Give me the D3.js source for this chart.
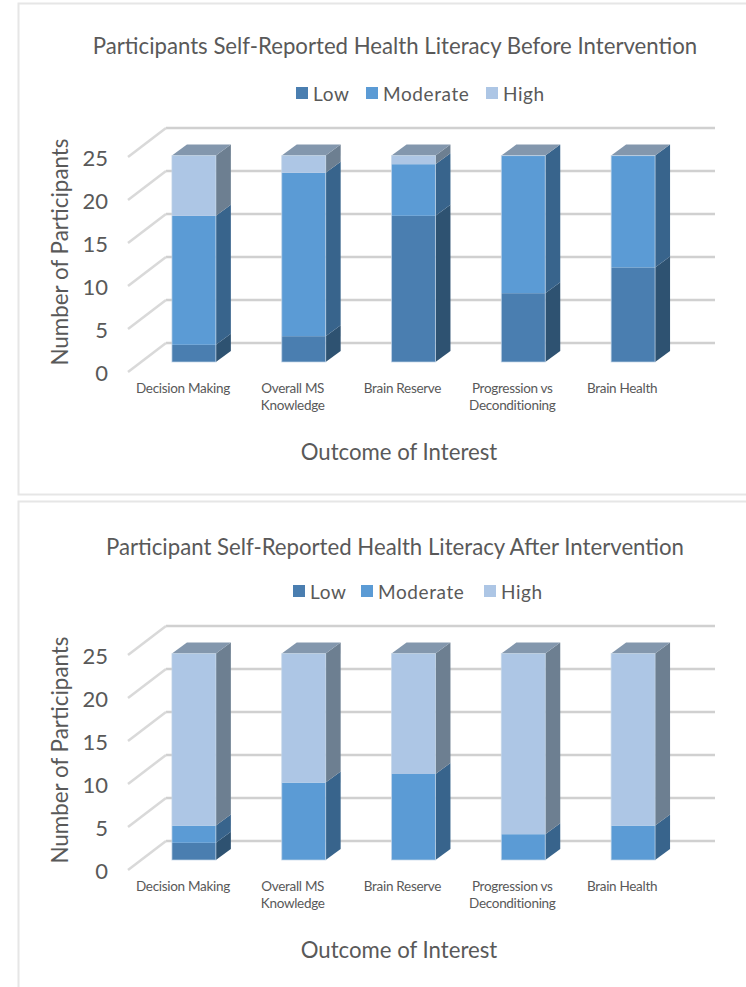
<!DOCTYPE html>
<html>
<head>
<meta charset="utf-8">
<script src="https://cdn.jsdelivr.net/npm/d3@7"></script>
<style>
  html, body { margin: 0; padding: 0; background: #fff; }
  svg { display: block; }
  text { font-family: Lato, "Open Sans", sans-serif; fill: #595959; }
</style>
</head>
<body>
<svg width="746" height="987"></svg>
<script>
// data
var categories = ["Decision Making", "Overall MS Knowledge", "Brain Reserve", "Progression vs Deconditioning", "Brain Health"];
var categoryLines = [["Decision Making"], ["Overall MS", "Knowledge"], ["Brain Reserve"], ["Progression vs", "Deconditioning"], ["Brain Health"]];
var levels = ["Low", "Moderate", "High"];
var yTicks = [0, 5, 10, 15, 20, 25];

var beforeLow = [2, 3, 17, 8, 11];
var beforeModerate = [15, 19, 6, 16, 13];
var beforeHigh = [7, 2, 1, 0, 0];

var afterLow = [2, 0, 0, 0, 0];
var afterModerate = [2, 9, 10, 3, 4];
var afterHigh = [20, 15, 14, 21, 20];

var titleBefore = "Participants Self-Reported Health Literacy Before Intervention";
var titleAfter = "Participant Self-Reported Health Literacy After Intervention";

// front, side colours per level
var frontColor = { Low: "#4a7eb0", Moderate: "#5b9bd5", High: "#adc6e5" };
var sideColor = { Low: "#2e5271", Moderate: "#38648c", High: "#6d7f91" };
var topColor = "#8397ad";

var svg = d3.select("svg");

var depthX = 15, depthY = 11;

var x = d3.scaleBand()
    .domain(categories)
    .range([139, 688])
    .paddingInner(0.6)
    .paddingOuter(0.3);

var y = d3.scaleLinear().domain([0, 25]).range([362, 147]);

function drawChart(offset, frameH, title, titleY, legendX, low, moderate, high) {
    var table = categories.map(function (c, i) {
        return { category: c, Low: low[i], Moderate: moderate[i], High: high[i] };
    });
    var stacked = d3.stack().keys(levels)(table);

    var g = svg.append("g").attr("transform", "translate(0," + offset + ")");

    g.append("rect")
        .attr("x", 18.5).attr("y", 3.5)
        .attr("width", 760).attr("height", frameH)
        .attr("fill", "#fff")
        .attr("stroke", "#e6e6e6")
        .attr("stroke-width", 2);

    g.append("text")
        .attr("class", "chart-title")
        .attr("x", 395).attr("y", titleY)
        .attr("text-anchor", "middle")
        .attr("font-size", 22.2)
        .text(title);

    // legend
    var legend = g.selectAll(".legend").data(levels).enter().append("g")
        .attr("class", "legend")
        .attr("transform", function (d, i) { return "translate(" + legendX[i] + ",87)"; });
    legend.append("rect")
        .attr("width", 12).attr("height", 12)
        .attr("fill", function (d) { return frontColor[d]; });
    legend.append("text")
        .attr("x", 17).attr("y", 14)
        .attr("font-size", 19)
        .attr("letter-spacing", 0.6)
        .text(function (d) { return d; });

    // back wall and side gridlines
    var grid = g.append("g").attr("class", "grid");
    grid.selectAll(".back").data(yTicks).enter().append("line")
        .attr("x1", 166).attr("x2", 715)
        .attr("y1", function (d) { return y(d) - 19; })
        .attr("y2", function (d) { return y(d) - 19; })
        .attr("stroke", "#d0d0d0").attr("stroke-width", 2.5);
    grid.selectAll(".diag").data(yTicks).enter().append("line")
        .attr("x1", 128).attr("x2", 166)
        .attr("y1", function (d) { return y(d) + 10; })
        .attr("y2", function (d) { return y(d) - 19; })
        .attr("stroke", "#d9d9d9").attr("stroke-width", 2.5);

    // bars, one group per level
    stacked.forEach(function (series) {
        var key = series.key;
        var parts = series.filter(function (d) { return d[1] > d[0]; });
        var layer = g.append("g").attr("class", "series-" + key);

        layer.selectAll(".side").data(parts).enter().append("polygon")
            .attr("fill", sideColor[key])
            .attr("points", function (d) {
                var r = x(d.data.category) + x.bandwidth();
                return [[r, y(d[0])], [r + depthX, y(d[0]) - depthY],
                        [r + depthX, y(d[1]) - depthY], [r, y(d[1])]].join(" ");
            });

        layer.selectAll(".front").data(parts).enter().append("rect")
            .attr("x", function (d) { return x(d.data.category); })
            .attr("y", function (d) { return y(d[1]); })
            .attr("width", x.bandwidth())
            .attr("height", function (d) { return y(d[0]) - y(d[1]); })
            .attr("fill", frontColor[key]);
    });

    // top faces
    g.selectAll(".top").data(table).enter().append("polygon")
        .attr("fill", topColor)
        .attr("points", function (d) {
            var l = x(d.category), r = l + x.bandwidth();
            var t = y(d.Low + d.Moderate + d.High);
            return [[l, t], [r, t], [r + depthX, t - depthY], [l + depthX, t - depthY]].join(" ");
        });

    // light edge round the front of each bar
    g.selectAll(".edge").data(table).enter().append("rect")
        .attr("x", function (d) { return x(d.category); })
        .attr("y", function (d) { return y(d.Low + d.Moderate + d.High); })
        .attr("width", x.bandwidth())
        .attr("height", function (d) { return y(0) - y(d.Low + d.Moderate + d.High); })
        .attr("fill", "none")
        .attr("stroke", "#c3d5e8")
        .attr("stroke-opacity", 0.7)
        .attr("stroke-width", 1);

    // value axis labels
    var axis = g.append("g")
        .attr("transform", "translate(108,11.5)")
        .call(d3.axisLeft(y).tickValues(yTicks).tickSize(0).tickPadding(0));
    axis.select(".domain").remove();
    axis.selectAll("text")
        .attr("font-size", 22)
        .style("font-family", "Lato, 'Open Sans', sans-serif");

    // category labels
    var catLabel = g.selectAll(".cat").data(categories).enter().append("text")
        .attr("class", "cat")
        .attr("text-anchor", "middle")
        .attr("font-size", 13.5)
        .attr("letter-spacing", -0.3);
    catLabel.selectAll("tspan")
        .data(function (d, i) { return categoryLines[i]; })
        .enter().append("tspan")
        .attr("x", function () {
            var c = d3.select(this.parentNode).datum();
            return x(c) + x.bandwidth() / 2 - 11;
        })
        .attr("y", function (d, i) { return 393 + i * 17; })
        .text(function (d) { return d; });

    g.append("text")
        .attr("x", 399).attr("y", 460)
        .attr("text-anchor", "middle")
        .attr("font-size", 22.2)
        .text("Outcome of Interest");

    g.append("text")
        .attr("transform", "translate(68,252) rotate(-90)")
        .attr("text-anchor", "middle")
        .attr("font-size", 22.4)
        .text("Number of Participants");
}

drawChart(0, 491, titleBefore, 54, [296, 366, 486], beforeLow, beforeModerate, beforeHigh);
drawChart(498, 520, titleAfter, 57, [293, 361, 484], afterLow, afterModerate, afterHigh);
</script>
</body>
</html>
